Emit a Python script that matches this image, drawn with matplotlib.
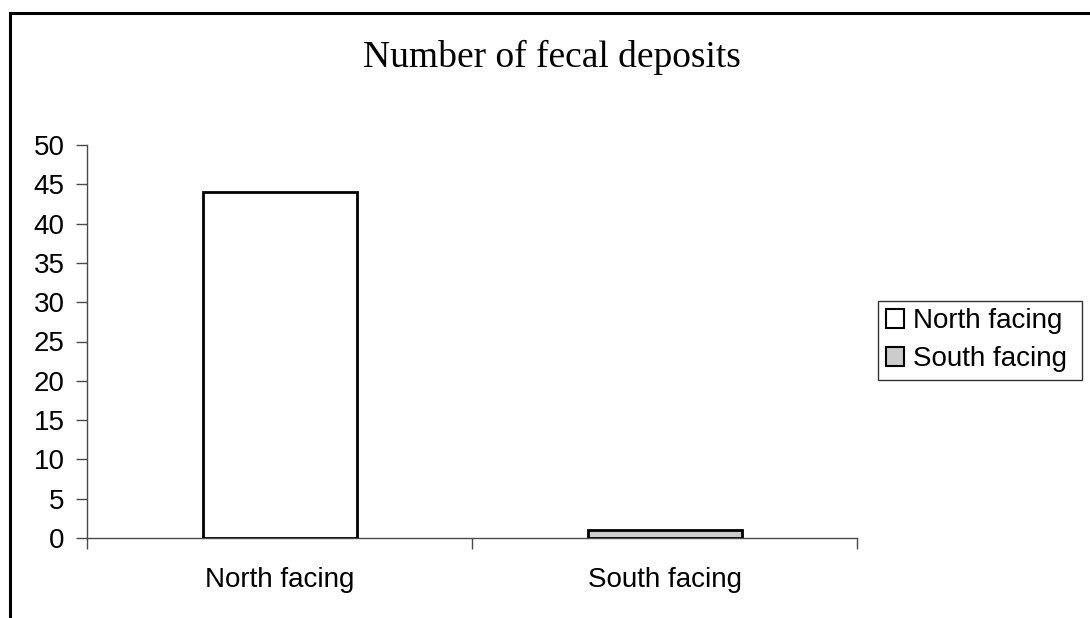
import matplotlib
matplotlib.use("Agg")
import matplotlib.pyplot as plt
from matplotlib.patches import Rectangle, Patch

categories = ["North facing", "South facing"]
deposits = [44, 1]
bar_colors = ["#ffffff", "#cccccc"]
y_ticks = [0, 5, 10, 15, 20, 25, 30, 35, 40, 45, 50]
title = "Number of fecal deposits"

W, H = 1090, 618
fig = plt.figure(figsize=(W / 100, H / 100), dpi=100)
fig.patch.set_facecolor("white")

# plot area in pixel terms
left, right, top, bottom = 87, 857, 145, 538
ax = fig.add_axes([left / W, 1 - bottom / H, (right - left) / W, (bottom - top) / H])
ax.set_facecolor("none")

x = [i + 0.5 for i in range(len(categories))]
for xi, val, col in zip(x, deposits, bar_colors):
    ax.bar(xi, val, width=0.4, color=col, edgecolor="black", linewidth=2.0, zorder=3)

ax.set_xlim(0, len(categories))
ax.set_ylim(0, 50)
ax.set_yticks(y_ticks)
ax.set_yticklabels([str(t) for t in y_ticks])

# category labels centred, ticks on category boundaries
ax.set_xticks(range(len(categories) + 1))
ax.set_xticklabels([])
ax.set_xticks(x, minor=True)
ax.set_xticklabels(categories, minor=True, fontsize=20, family="Liberation Sans")
ax.tick_params(axis="x", which="minor", length=0, pad=21)
ax.tick_params(axis="x", which="major", length=8, width=1.0, color="#4a4a4a", direction="out")
ax.tick_params(axis="y", length=8, width=1.0, color="#4a4a4a", direction="out", pad=8,
               labelsize=20)
for lab in ax.get_yticklabels():
    lab.set_family("Liberation Sans")

for side in ["top", "right"]:
    ax.spines[side].set_visible(False)
for side in ["left", "bottom"]:
    ax.spines[side].set_color("#4a4a4a")
    ax.spines[side].set_linewidth(1.0)

fig.text(552 / W, 1 - 57 / H, title, ha="center", va="center",
         fontsize=27, family="Liberation Serif")

handles = [Patch(facecolor=c, edgecolor="black", linewidth=1.5) for c in bar_colors]
leg = fig.legend(handles, categories, loc="upper left", mode="expand",
                 bbox_to_anchor=(878 / W, 1 - 382 / H, 204 / W, 81 / H),
                 bbox_transform=fig.transFigure,
                 prop={"family": "Liberation Sans", "size": 20},
                 frameon=True, fancybox=False, borderaxespad=0, borderpad=0.27,
                 handlelength=0.68, handleheight=0.68, handletextpad=0.3,
                 labelspacing=0.43)
leg.get_frame().set_edgecolor("black")
leg.get_frame().set_linewidth(1.0)

# chart-area border, running off the right and bottom edges
fig.patches.append(Rectangle((9.5 / W, -0.2), 2.0, 1.2 - 12.5 / H,
                             transform=fig.transFigure, fill=False,
                             edgecolor="black", linewidth=2.2))

fig.savefig("out.png", dpi=100)
